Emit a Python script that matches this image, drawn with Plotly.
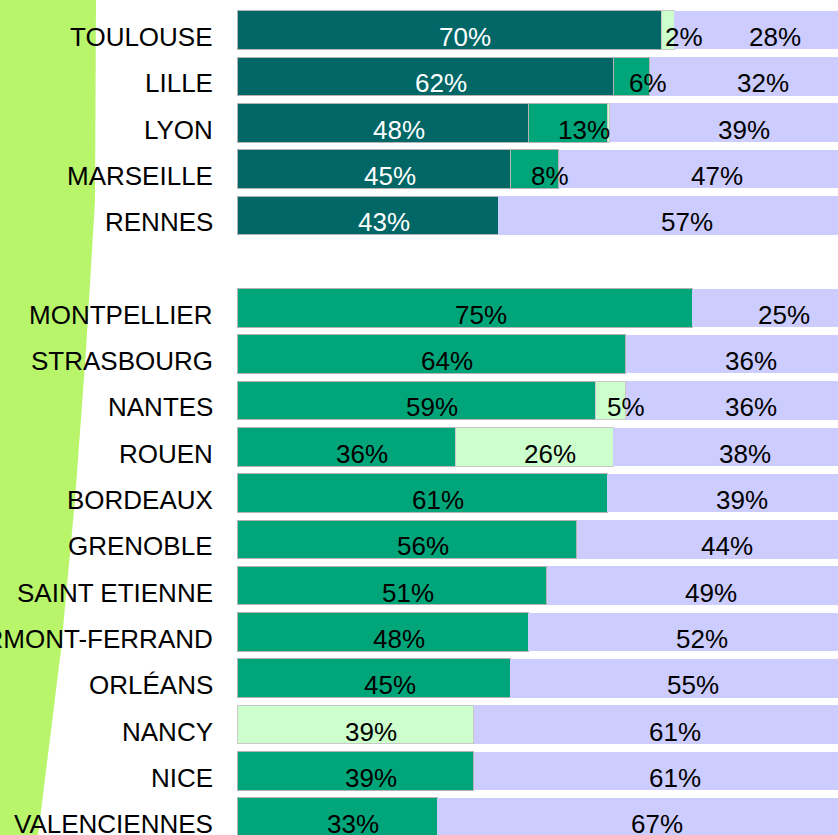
import plotly.graph_objects as go

# ---- data ----
cities = ["TOULOUSE", "LILLE", "LYON", "MARSEILLE", "RENNES", " ",
          "MONTPELLIER", "STRASBOURG", "NANTES", "ROUEN", "BORDEAUX",
          "GRENOBLE", "SAINT ETIENNE", "CLERMONT-FERRAND", "ORLÉANS",
          "NANCY", "NICE", "VALENCIENNES"]
dark_vals = [70, 62, 48, 45, 43, None, None, None, None, None, None,
             None, None, None, None, None, None, None]
medium_vals = [None, 6, 13, 8, None, None, 75, 64, 59, 36, 61,
               56, 51, 48, 45, None, 39, 33]
light_vals = [2, None, 0.4, None, None, None, None, None, 5, 26, None,
              None, None, None, None, 39, None, None]
lavender_vals = [28, 32, 39, 47, 57, None, 25, 36, 36, 38, 39,
                 44, 49, 52, 55, 61, 61, 67]

series = [
    (dark_vals, "#006666", "#b3b3b3", 1, "white"),
    (medium_vals, "#00a67a", "#b3b3b3", 1, "black"),
    (light_vals, "#ccffcc", "#c8c8c8", 1, "black"),
    (lavender_vals, "#ccccff", "#ccccff", 0, "black"),
]

FONT = "Liberation Sans, Arial, sans-serif"
W, H = 838, 835
ML, MT = 237, 7

fig = go.Figure()
cum = [0.0] * len(cities)
annotations = []
for vals, color, lcolor, lw, tcolor in series:
    fig.add_trace(go.Bar(
        y=cities, x=vals, orientation="h",
        marker=dict(color=color, line=dict(color=lcolor, width=lw)),
        hoverinfo="skip", showlegend=False,
    ))
    for i, v in enumerate(vals):
        if v is None:
            continue
        if v >= 1:
            annotations.append(dict(
                x=cum[i] + v / 2, y=cities[i], xref="x", yref="y",
                text=f"{v:g}%", showarrow=False, xshift=16, yshift=-7,
                font=dict(family=FONT, size=26, color=tcolor),
            ))
        cum[i] += v

# category labels (placed like the reference: right-aligned, on the value baseline)
for c in cities:
    if not c.strip():
        continue
    annotations.append(dict(
        x=0, y=c, xref="paper", yref="y", xanchor="right",
        text=c, showarrow=False, xshift=-22, yshift=-7,
        font=dict(family=FONT, size=26, color="black"),
    ))

# decorative green band on the left (pixel outline -> paper coords)
edge_px = [(96, 0), (95, 200), (86, 350), (75, 500), (61, 650), (38, 835)]
plot_w = W - ML
plot_h = H - MT
def px2paper(x, y):
    return ((x - ML) / plot_w, (H - y) / plot_h)
pts = [px2paper(-10, -5)] + [px2paper(x, y) for x, y in [(96, -5)] + edge_px + [(36, 845)]] + [px2paper(-10, 845)]
path = "M " + " L ".join(f"{x:.5f},{y:.5f}" for x, y in pts) + " Z"

fig.update_layout(
    width=W, height=H,
    margin=dict(l=ML, r=0, t=MT, b=0, pad=0),
    paper_bgcolor="white", plot_bgcolor="white",
    barmode="stack", bargap=0.167,
    annotations=annotations,
    shapes=[dict(type="path", path=path, xref="paper", yref="paper",
                 fillcolor="#b8f56b", line=dict(width=0), layer="below")],
    xaxis=dict(range=[0, 99.0], showgrid=False, zeroline=False,
               showticklabels=False, showline=False, fixedrange=True,
               automargin=False),
    yaxis=dict(categoryorder="array", categoryarray=cities,
               range=[17.386, -0.5], showgrid=False, zeroline=False,
               showline=False, ticks="", showticklabels=False,
               automargin=False),
    font=dict(family=FONT),
)

fig.write_html(
    "out.html",
    config={"displayModeBar": False},
    post_script="document.body.style.margin='0';document.body.style.padding='0';document.body.style.overflow='hidden';",
)
